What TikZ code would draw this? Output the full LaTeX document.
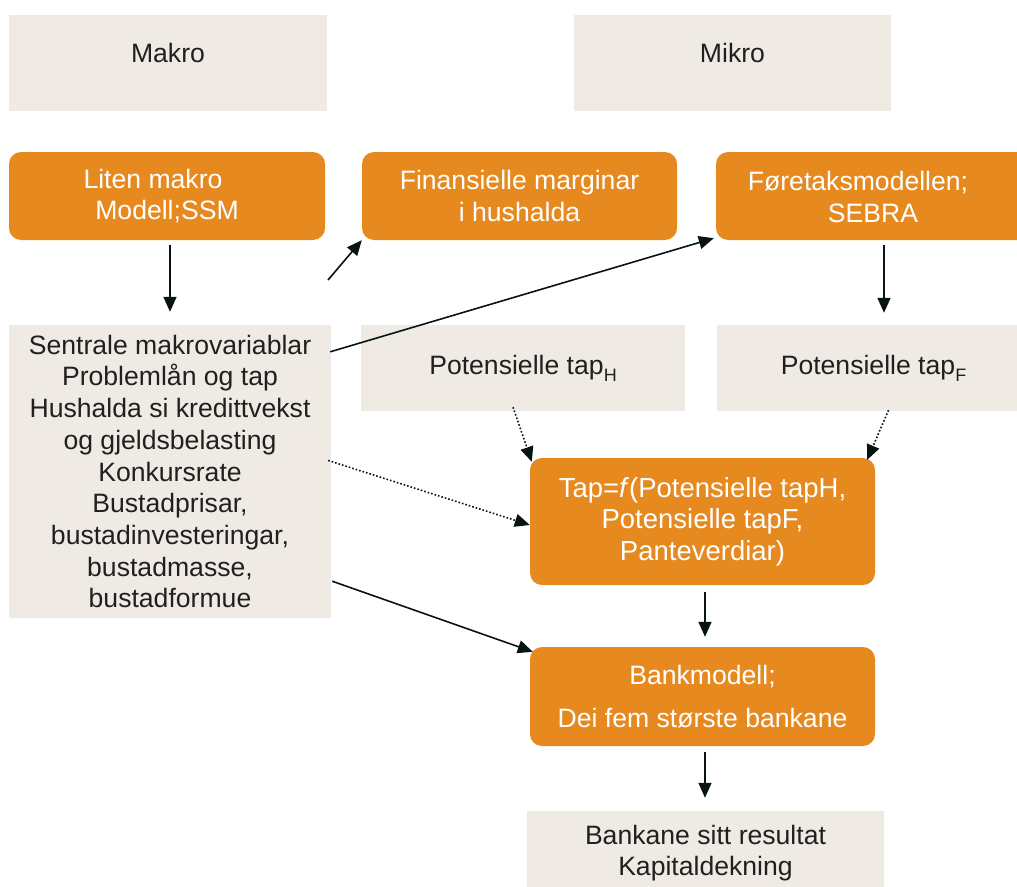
\documentclass[tikz,border=0pt]{standalone}
\usepackage{fontspec}
\setmainfont{Liberation Sans}
\usetikzlibrary{arrows.meta,calc}
\definecolor{org}{RGB}{230,138,32}
\definecolor{beige}{RGB}{239,235,228}
\definecolor{txt}{RGB}{35,31,32}
\definecolor{arrc}{RGB}{8,20,20}
\newcommand{\subl}[1]{\raisebox{-7pt}{\fontsize{18}{18}\selectfont #1}}
\begin{document}
\begin{tikzpicture}[x=1pt,y=-1pt,
  every node/.style={font=\fontsize{26.6}{31.5}\selectfont},
  listtext/.style={font=\fontsize{26.6}{31.7}\selectfont},
  taptext/.style={font=\fontsize{27.5}{31.5}\selectfont},
  bbox/.style={fill=beige, draw=none, inner sep=0pt, text=txt, align=center},
  obox/.style={fill=org, draw=none, rounded corners=12pt, inner sep=0pt, text=white, align=center},
  plain/.style={inner sep=0pt, align=center},
  arrow/.style={draw=arrc, line width=1.6pt, -{Triangle[length=15pt,width=13pt]}},
  darrow/.style={arrow, dotted, line width=1.6pt, -{Triangle[length=15pt,width=13pt]}}]
\useasboundingbox (0,0) rectangle (1017,886);
\clip (0,0) rectangle (1017,886);

% header boxes
\node[bbox, minimum width=318pt, minimum height=96pt] (makro) at (168,63) {};
\node[plain, text=txt] (makrot) at (168,53) {Makro};
\node[bbox, minimum width=317pt, minimum height=96pt] (mikro) at (732.5,63) {};
\node[plain, text=txt] (mikrot) at (732.5,53) {Mikro};

% orange model boxes
\node[obox, minimum width=316pt, minimum height=88pt] (liten) at (167,196) {Liten makro\kern28pt\\ Modell;SSM};
\node[obox, minimum width=315pt, minimum height=88pt] (fin) at (519.5,196) {Finansielle marginar\\ i hushalda};
\node[obox, minimum width=314pt, minimum height=88pt] (foret) at (873,196) {};
\node[plain, text=white] (forett) at (858,197) {Føretaksmodellen;\\ \kern30pt SEBRA};

% beige variable boxes
\node[bbox, listtext, minimum width=322pt, minimum height=293pt] (sent) at (170,471.5)
  {Sentrale makrovariablar\\ Problemlån og tap\\ Hushalda si kredittvekst\\ og gjeldsbelasting\\ Konkursrate\\ Bustadprisar,\\ bustadinvesteringar,\\ bustadmasse,\\ bustadformue};
\node[bbox, minimum width=324pt, minimum height=86pt] (tapH) at (523,368) {Potensielle tap\subl{H}};
\node[bbox, minimum width=313pt, minimum height=86pt] (tapF) at (873.5,368) {Potensielle tap\subl{F}};

% loss and bank boxes
\node[obox, taptext, minimum width=345pt, minimum height=127pt] (tap) at (702.5,521.5)
  {Tap=\textit{f}(Potensielle tapH,\\ Potensielle tapF,\\ Panteverdiar)};
\node[obox, minimum width=345pt, minimum height=99pt] (bank) at (702.5,696.5)
  {Bankmodell;\\[11pt] Dei fem største bankane};
\node[bbox, minimum width=357pt, minimum height=90pt] (bankane) at (705.5,856) {};
\node[plain, text=txt] (bankanet) at (705.5,853) {Bankane sitt resultat\\ Kapitaldekning};

% connectors
\coordinate (xf) at (884,0);
\coordinate (xb) at (705,0);
\coordinate (s1) at (328,280);

\draw[arrow, shorten <=5pt, shorten >=13pt] (sent.north |- liten.south) -- (sent.north);
\draw[arrow] (s1) -- (fin.south west);
\draw[arrow] ($(sent.north east)+(-1,27)$) -- ($(foret.south west)+(-2,-2)$);
\draw[arrow, shorten <=5pt, shorten >=12pt] (foret.south -| xf) -- (tapF.north -| xf);
\draw[darrow] ($(tapH.south)+(-10,-4)$) -- ($(tap.north west)+(2,4)$);
\draw[darrow] ($(tapF.south)+(15,-1)$) -- ($(tap.north east)+(-8,2)$);
\draw[darrow] ($(sent.east)+(-3,-11)$) -- ($(tap.west)+(0,3.5)$);
\draw[arrow] ($(sent.south east)+(1,-37)$) -- ($(bank.north west)+(3,5)$);
\draw[arrow, shorten <=7pt, shorten >=10pt] (tap.south -| xb) -- (bank.north -| xb);
\draw[arrow, shorten <=6pt, shorten >=13pt] (bank.south -| xb) -- (bankane.north -| xb);
\end{tikzpicture}
\end{document}
